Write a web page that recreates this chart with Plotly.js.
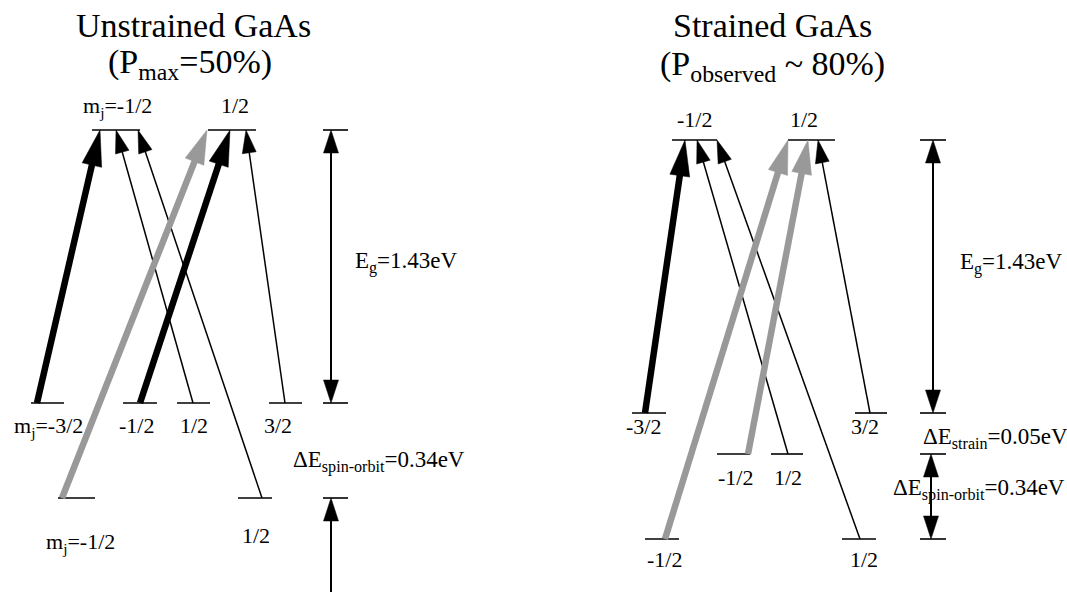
<!DOCTYPE html>
<html>
<head>
<meta charset="utf-8">
<script src="https://cdn.plot.ly/plotly-3.0.1.min.js"></script>
<style>html,body{margin:0;padding:0;background:#fff;}#chart{width:1067px;height:592px;}</style>
</head>
<body>
<div id="chart"></div>
<script>
// ---------- Unstrained GaAs (diagram units = canvas units, y downward) ----------
const uTitle = ['Unstrained GaAs', '(P<sub>max</sub>=50%)'];
const uLevelState = ['-1/2', '1/2', '-3/2', '-1/2', '1/2', '3/2', '-1/2', '1/2'];
const uLevelX0 = [92, 208, 31, 123, 177, 269, 58, 238];
const uLevelX1 = [140, 256, 64, 157, 210, 302, 95, 272];
const uLevelY = [130, 130, 403, 403, 403, 403, 498, 498];
const uLabelText = ['m<sub>j</sub>=-1/2', '1/2', 'm<sub>j</sub>=-3/2', '-1/2', '1/2', '3/2', 'm<sub>j</sub>=-1/2', '1/2'];
const uLabelX = [117, 235, 48, 136, 194, 278, 80, 256];
const uLabelBase = [112, 112, 432, 432, 432, 432, 548, 542];
const uTransFromX = [37, 193, 262, 62, 140, 285];
const uTransFromY = [403, 403, 498, 498, 403, 403];
const uTransToX = [100, 116, 138, 207, 230, 246];
const uTransToY = [130, 130, 130, 130, 130, 130];
const uTransKind = ['strong', 'weak', 'weak', 'gray', 'strong', 'weak'];
const uGapText = ['E<sub>g</sub>=1.43eV', 'ΔE<sub>spin-orbit</sub>=0.34eV'];
const uGapLabelX = [353, 291];
const uGapLabelBase = [267, 466];

// ---------- Strained GaAs ----------
const sTitle = ['Strained GaAs', '(P<sub>observed</sub> ~ 80%)'];
const sLevelState = ['-1/2', '1/2', '-3/2', '-1/2', '1/2', '3/2', '-1/2', '1/2'];
const sLevelX0 = [672, 788, 632, 717, 771, 855, 645, 842];
const sLevelX1 = [717, 835, 666, 750, 803, 887, 679, 876];
const sLevelY = [140, 140, 413, 454, 454, 413, 539, 539];
const sLabelText = ['-1/2', '1/2', '-3/2', '-1/2', '1/2', '3/2', '-1/2', '1/2'];
const sLabelX = [694, 804, 643, 735, 788, 865, 664, 864];
const sLabelBase = [126, 126, 433, 484, 484, 433, 566, 566];
const sTransFromX = [645, 788, 860, 665, 748, 870];
const sTransFromY = [413, 454, 539, 539, 454, 413];
const sTransToX = [685, 697, 717, 788, 808, 818];
const sTransToY = [140, 140, 140, 140, 140, 140];
const sTransKind = ['strong', 'weak', 'weak', 'gray', 'gray', 'weak'];
const sGapText = ['E<sub>g</sub>=1.43eV', 'ΔE<sub>strain</sub>=0.05eV', 'ΔE<sub>spin-orbit</sub>=0.34eV'];
const sGapLabelX = [958, 921, 891];
const sGapLabelBase = [268, 443, 494];

// energy-gap brackets
const uTickY = [130, 403, 498];
const sTickY = [140, 413, 454, 539];

// ---------- drawing ----------
const STYLE = {
  strong: {color: '#000000', width: 6.5, L: 36, hw: 10},
  gray:   {color: '#999999', width: 6.5, L: 34, hw: 10},
  weak:   {color: '#000000', width: 1.5, L: 23, hw: 7},
  gap:    {color: '#000000', width: 2, L: 23, hw: 7.5}
};
const traces = [];
function seg(xs, ys, color, width) {
  traces.push({type: 'scatter', mode: 'lines', x: xs, y: ys, line: {color: color, width: width}, hoverinfo: 'skip'});
}
function head(fx, fy, tx, ty, st) {
  const dx = tx - fx, dy = ty - fy, d = Math.hypot(dx, dy);
  const ux = dx / d, uy = dy / d, px = -uy, py = ux;
  const bx = tx - ux * st.L, by = ty - uy * st.L;
  traces.push({type: 'scatter', mode: 'lines', fill: 'toself', fillcolor: st.color,
    line: {color: st.color, width: 0.5},
    x: [tx, bx + px * st.hw, bx - px * st.hw, tx], y: [ty, by + py * st.hw, by - py * st.hw, ty], hoverinfo: 'skip'});
  return [tx - ux * st.L * 0.7, ty - uy * st.L * 0.7];
}
function arrow(fx, fy, tx, ty, st) {
  const b = head(fx, fy, tx, ty, st);
  seg([fx, b[0]], [fy, b[1]], st.color, st.width);
}
function dblArrow(x, y0, y1, st) {
  const a = head(x, y1, x, y0, st);
  const b = head(x, y0, x, y1, st);
  seg([x, x], [a[1], b[1]], st.color, st.width);
}

function panel(lx0, lx1, ly, fx, fy, tx, ty, kind) {
  for (let i = 0; i < lx0.length; i++) seg([lx0[i], lx1[i]], [ly[i], ly[i]], '#000', 1.6);
  for (let i = 0; i < fx.length; i++) arrow(fx[i], fy[i], tx[i], ty[i], STYLE[kind[i]]);
}
panel(uLevelX0, uLevelX1, uLevelY, uTransFromX, uTransFromY, uTransToX, uTransToY, uTransKind);
panel(sLevelX0, sLevelX1, sLevelY, sTransFromX, sTransFromY, sTransToX, sTransToY, sTransKind);

// brackets
const uBx = 331, sBx = 933;
uTickY.forEach(y => seg([323, 348], [y, y], '#000', 1.6));
sTickY.forEach(y => seg([920, 946], [y, y], '#000', 1.6));
dblArrow(uBx, uTickY[0], uTickY[1], STYLE.gap);
arrow(uBx, 600, uBx, uTickY[2], STYLE.gap);
dblArrow(sBx, sTickY[0], sTickY[1], STYLE.gap);
dblArrow(931, sTickY[2], sTickY[3], STYLE.gap);

// ---------- text ----------
const FONT = 'Liberation Serif, Times New Roman, serif';
const ann = [];
function txt(text, x, base, size, xanchor) {
  ann.push({text: text, x: x, y: base - 0.891 * size - 1, xref: 'x', yref: 'y', showarrow: false,
    xanchor: xanchor, yanchor: 'top', font: {family: FONT, size: size, color: '#000'}});
}
txt(uTitle[0], 193, 36, 34, 'center');
txt(uTitle[1], 190, 72, 34, 'center');
txt(sTitle[0], 772, 36, 34, 'center');
txt(sTitle[1], 772, 74, 34, 'center');
uLabelText.forEach((t, i) => txt(t, uLabelX[i], uLabelBase[i], 22, 'center'));
sLabelText.forEach((t, i) => txt(t, sLabelX[i], sLabelBase[i], 22, 'center'));
uGapText.forEach((t, i) => txt(t, uGapLabelX[i], uGapLabelBase[i], 23, 'left'));
sGapText.forEach((t, i) => txt(t, sGapLabelX[i], sGapLabelBase[i], 23, 'left'));

const layout = {
  width: 1067, height: 592,
  margin: {l: 0, r: 0, t: 0, b: 0},
  paper_bgcolor: '#fff', plot_bgcolor: '#fff',
  showlegend: false,
  xaxis: {range: [0, 1067], visible: false, fixedrange: true},
  yaxis: {range: [592, 0], visible: false, fixedrange: true},
  annotations: ann,
  hovermode: false
};
Plotly.newPlot('chart', traces, layout, {staticPlot: true, displayModeBar: false});
</script>
</body>
</html>
